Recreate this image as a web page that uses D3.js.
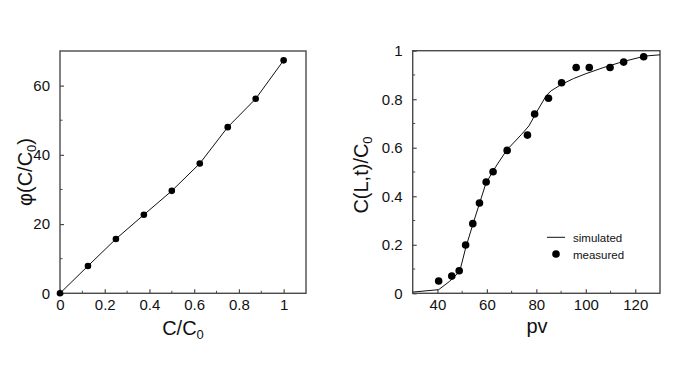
<!DOCTYPE html>
<html><head><meta charset="utf-8">
<script src="https://cdn.jsdelivr.net/npm/d3@7"></script>
<style>body{margin:0;background:#fff}svg{display:block}text{font-family:"Liberation Sans",Arial,sans-serif;fill:#111}</style>
</head><body>
<svg id="c" width="680" height="383"></svg>
<script>
// Left panel data
const leftX = [0, 0.125, 0.25, 0.375, 0.5, 0.625, 0.75, 0.875, 1];
const leftY = [0, 7.9, 15.7, 22.7, 29.6, 37.5, 48.0, 56.2, 67.3];
const leftXTicks = [0, 0.2, 0.4, 0.6, 0.8, 1];
const leftYTicks = [0, 20, 40, 60];
// Right panel data
const measPv = [40.5, 45.8, 48.8, 51.4, 54.3, 57.0, 59.7, 62.5, 68.2, 76.4, 79.3, 84.9, 90.2, 96.1, 101.4, 109.8, 115.3, 123.4];
const measC  = [0.051, 0.071, 0.093, 0.199, 0.287, 0.372, 0.459, 0.501, 0.589, 0.652, 0.739, 0.804, 0.868, 0.931, 0.931, 0.931, 0.953, 0.975];
const simPv = [30, 40.5, 45, 49, 51.5, 54.5, 57, 59.5, 62.5, 68, 74, 77, 80, 84, 86, 90, 95, 100, 107, 115, 124, 130];
const simC  = [0.005, 0.015, 0.05, 0.09, 0.19, 0.29, 0.37, 0.45, 0.505, 0.59, 0.655, 0.69, 0.745, 0.815, 0.835, 0.86, 0.885, 0.905, 0.93, 0.955, 0.978, 0.983];
const rightXTicks = [40, 60, 80, 100, 120];
const rightYTicks = [0, 0.2, 0.4, 0.6, 0.8, 1];
const legendLabels = ["simulated", "measured"];

const svg = d3.select("#c");

function panel(o) {
  const g = svg.append("g");
  const x = d3.scaleLinear().domain(o.xd).range([o.l, o.r]);
  const y = d3.scaleLinear().domain(o.yd).range([o.b, o.t]);
  g.append("rect").attr("x", o.l).attr("y", o.t).attr("width", o.r - o.l).attr("height", o.b - o.t)
    .attr("fill", "none").attr("stroke", "#4a4a4a").attr("stroke-width", 1.4);
  g.selectAll(".mx").data(o.xMinor).join("line")
    .attr("x1", d => x(d)).attr("x2", d => x(d)).attr("y1", o.b).attr("y2", o.b - 2.5)
    .attr("stroke", "#4a4a4a").attr("stroke-width", 1);
  g.selectAll(".my").data(o.yMinor).join("line")
    .attr("y1", d => y(d)).attr("y2", d => y(d)).attr("x1", o.l).attr("x2", o.l + 2.5)
    .attr("stroke", "#4a4a4a").attr("stroke-width", 1);
  const ax = d3.axisBottom(x).tickValues(o.xTicks).tickSizeInner(-4).tickSizeOuter(0).tickPadding(6).tickFormat(o.xf);
  const ay = d3.axisLeft(y).tickValues(o.yTicks).tickSizeInner(-4).tickSizeOuter(0).tickPadding(10).tickFormat(o.yf);
  const gx = g.append("g").attr("transform", `translate(0,${o.b})`).call(ax);
  const gy = g.append("g").attr("transform", `translate(${o.l},0)`).call(ay);
  [gx, gy].forEach(a => {
    a.select(".domain").remove();
    a.selectAll("line").attr("stroke", "#4a4a4a").attr("stroke-width", 1.2);
    a.selectAll("text").attr("font-size", 15).attr("fill", "#111")
      .attr("font-family", '"Liberation Sans",Arial,sans-serif');
  });
  return {g, x, y};
}

// LEFT
const L = panel({l: 60, r: 306, t: 51, b: 293.3, xd: [0, 1.1], yd: [0, 70],
  xTicks: leftXTicks, yTicks: leftYTicks,
  xMinor: [0.1, 0.3, 0.5, 0.7, 0.9], yMinor: [10, 30, 50],
  xf: d => d === 0 ? "0" : (d === 1 ? "1" : d3.format(".1f")(d)), yf: d3.format("d")});
const lp = leftX.map((d, i) => [d, leftY[i]]);
L.g.append("path").datum(lp).attr("fill", "none").attr("stroke", "#111").attr("stroke-width", 1)
  .attr("d", d3.line().x(d => L.x(d[0])).y(d => L.y(d[1])));
L.g.selectAll(".pt").data(lp).join("circle").attr("cx", d => L.x(d[0])).attr("cy", d => L.y(d[1]))
  .attr("r", 3.3).attr("fill", "#000");

// RIGHT
const R = panel({l: 412.7, r: 660, t: 50.7, b: 293.3, xd: [30, 130], yd: [0, 1],
  xTicks: rightXTicks, yTicks: rightYTicks,
  xMinor: [50, 70, 90, 110], yMinor: [0.1, 0.3, 0.5, 0.7, 0.9],
  xf: d3.format("d"), yf: d => d === 0 ? "0" : (d === 1 ? "1" : d3.format(".1f")(d))});
const sp = simPv.map((d, i) => [d, simC[i]]);
R.g.append("path").datum(sp).attr("fill", "none").attr("stroke", "#111").attr("stroke-width", 1)
  .attr("d", d3.line().x(d => R.x(d[0])).y(d => R.y(d[1])));
const mp = measPv.map((d, i) => [d, measC[i]]);
R.g.selectAll(".pt").data(mp).join("circle").attr("cx", d => R.x(d[0])).attr("cy", d => R.y(d[1]))
  .attr("r", 3.8).attr("fill", "#000");

// legend
svg.append("line").attr("x1", 547).attr("x2", 565).attr("y1", 237.3).attr("y2", 237.3)
  .attr("stroke", "#111").attr("stroke-width", 1);
svg.append("circle").attr("cx", 556).attr("cy", 254).attr("r", 3.8).attr("fill", "#000");
svg.append("text").attr("x", 573).attr("y", 241.5).attr("font-size", 11.5).text(legendLabels[0]);
svg.append("text").attr("x", 573).attr("y", 258.5).attr("font-size", 11.5).text(legendLabels[1]);

// axis titles
function sub(t, main, s, rest) {
  t.append("tspan").text(main);
  t.append("tspan").attr("font-size", 13).attr("dy", 4).text(s);
  if (rest) t.append("tspan").attr("dy", -4).text(rest);
}
sub(svg.append("text").attr("x", 183).attr("y", 335).attr("text-anchor", "middle").attr("font-size", 20), "C/C", "0");
svg.append("text").attr("x", 537).attr("y", 333).attr("text-anchor", "middle").attr("font-size", 20).text("pv");
sub(svg.append("text").attr("transform", "translate(32,172) rotate(-90)").attr("text-anchor", "middle").attr("font-size", 20), "φ(C/C", "0", ")");
sub(svg.append("text").attr("transform", "translate(368,175) rotate(-90)").attr("text-anchor", "middle").attr("font-size", 20), "C(L,t)/C", "0");
</script>
</body></html>
